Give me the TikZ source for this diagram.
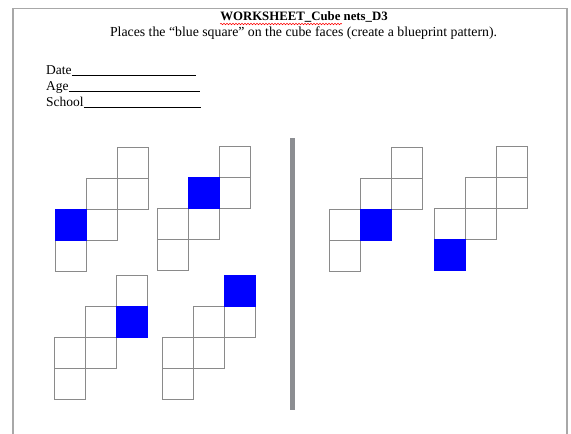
\documentclass[tikz,border=0pt]{standalone}
\usepackage{fontspec}
\setmainfont{Liberation Serif}
\usetikzlibrary{decorations.pathmorphing}
\definecolor{cellgray}{HTML}{8A8A8A}
\definecolor{bargray}{HTML}{8C8E92}
\definecolor{framegray}{HTML}{A8A8A8}
\newcommand\cubenet[5]{%
  \foreach \c/\r in {2/0,1/1,2/1,0/2,1/2,0/3}{
    \node[cell] (#1-\c-\r) at ({#2+31*\c},{#3+31*\r}) {};
  }
  \node[bluecell] (#1-blue) at ({#2+31*#4},{#3+31*#5}) {};
}
\begin{document}
\begin{tikzpicture}[x=1pt,y=-1pt,
  cell/.style={draw=cellgray,line width=1.1pt,fill=white,anchor=north west,minimum size=31pt,inner sep=0pt},
  bluecell/.style={draw=blue,line width=0.8pt,fill=blue,anchor=north west,minimum size=31pt,inner sep=0pt},
  txt/.style={inner sep=0pt,anchor=base west,font=\fontsize{13.5}{15}\selectfont}]
\useasboundingbox (0,0) rectangle (571,434);
\fill[white] (0,0) rectangle (571,434);
% page frame
\draw[framegray,line width=1.8pt] (13,434) -- (13,8.5) -- (567,8.5) -- (567,434);
% header
\node[inner sep=0pt,font=\bfseries\fontsize{12.8}{14}\selectfont] (title) at (304,17) {WORKSHEET\_Cube nets\_D3};
\draw[red,line width=0.5pt,decorate,decoration={snake,segment length=3pt,amplitude=0.7pt}]
  ([yshift=-1.5pt]title.south west) -- ([yshift=-1.5pt,xshift=-46pt]title.south east);
\node[inner sep=0pt,font=\fontsize{13.8}{15}\selectfont] (sub) at (303.5,33.5) {Places the “blue square” on the cube faces (create a blueprint pattern).};
% form fields
\node[txt] (date) at (46,74) {Date};
\node[txt] (age) at (46,90) {Age};
\node[txt] (school) at (46,106) {School};
\coordinate (dateend) at (196,74);
\coordinate (ageend) at (200,90);
\coordinate (schoolend) at (201,106);
\draw[line width=0.6pt] ([yshift=-1pt]date.base east) -- ([yshift=-1pt]dateend);
\draw[line width=0.6pt] ([yshift=-1pt]age.base east) -- ([yshift=-1pt]ageend);
\draw[line width=0.6pt] ([yshift=-1pt]school.base east) -- ([yshift=-1pt]schoolend);
% divider
\coordinate (bartop) at (292.5,138);
\coordinate (barbot) at (292.5,410);
\draw[bargray,line width=5pt] (bartop) -- (barbot);
% nets
\cubenet{n1}{55.3}{147.3}{0}{2}
\cubenet{n2}{157.3}{146}{1}{1}
\cubenet{n3}{54}{274.7}{2}{1}
\cubenet{n4}{162.3}{274.7}{2}{0}
\cubenet{n5}{329}{146.7}{1}{2}
\cubenet{n6}{434.3}{146}{0}{3}
\end{tikzpicture}
\end{document}
